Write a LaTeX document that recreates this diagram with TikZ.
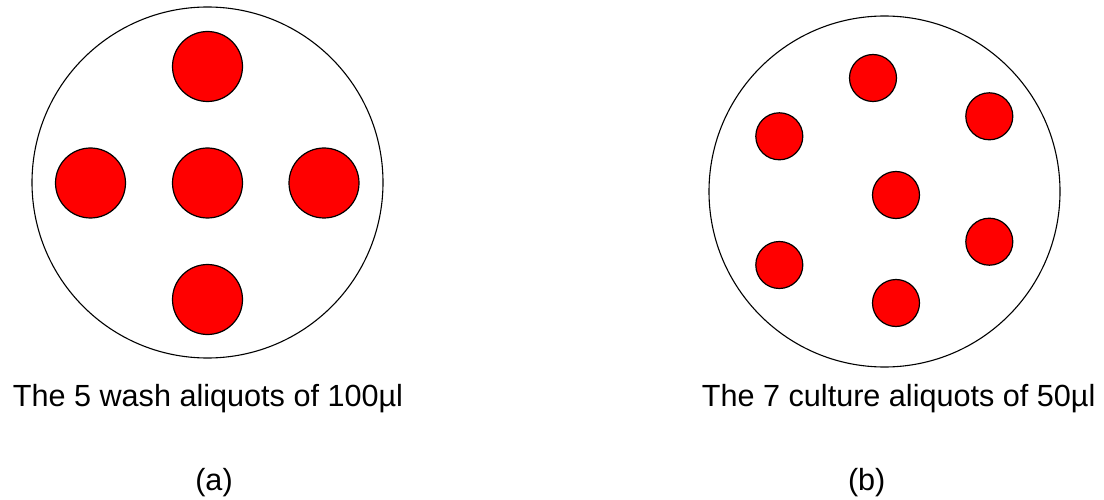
\documentclass[tikz,border=0pt]{standalone}
\usepackage{fontspec}
\setmainfont{Liberation Sans}
\definecolor{dotred}{RGB}{255,0,0}
\begin{document}
\begin{tikzpicture}[x=1pt,y=-1pt,
  plate/.style={circle,draw=black,line width=1.1pt,inner sep=0pt,minimum size=351pt},
  bigdot/.style={circle,draw=black,fill=dotred,line width=1.2pt,inner sep=0pt,minimum size=70pt},
  smalldot/.style={circle,draw=black,fill=dotred,line width=1.2pt,inner sep=0pt,minimum size=47pt},
  caption/.style={anchor=base,inner sep=0pt,font=\fontsize{30.6}{36}\selectfont}]
\useasboundingbox (0,0) rectangle (1104,500);
\fill[white] (0,0) rectangle (1104,500);
% left plate
\node[plate] (pa) at (207.5,182.5) {};
\node[bigdot] (a1) at (207.5,66.5) {};
\node[bigdot] (a2) at (90.5,183) {};
\node[bigdot] (a3) at (207.5,183) {};
\node[bigdot] (a4) at (324,183) {};
\node[bigdot] (a5) at (207.5,299.5) {};
% right plate
\node[plate] (pb) at (884.5,191.5) {};
\node[smalldot] (b1) at (873,78) {};
\node[smalldot] (b2) at (989.3,116.3) {};
\node[smalldot] (b3) at (779.3,136.3) {};
\node[smalldot] (b4) at (896,195) {};
\node[smalldot] (b5) at (989.3,241.7) {};
\node[smalldot] (b6) at (779.3,265) {};
\node[smalldot] (b7) at (896,303) {};
% captions
\node[caption] (ta) at (208,406) {The 5 wash aliquots of 100µl};
\node[caption] (tb) at (898.7,406) {The 7 culture aliquots of 50µl};
\node[caption] (la) at (214,490) {(a)};
\node[caption] (lb) at (866.7,490) {(b)};
\end{tikzpicture}
\end{document}
